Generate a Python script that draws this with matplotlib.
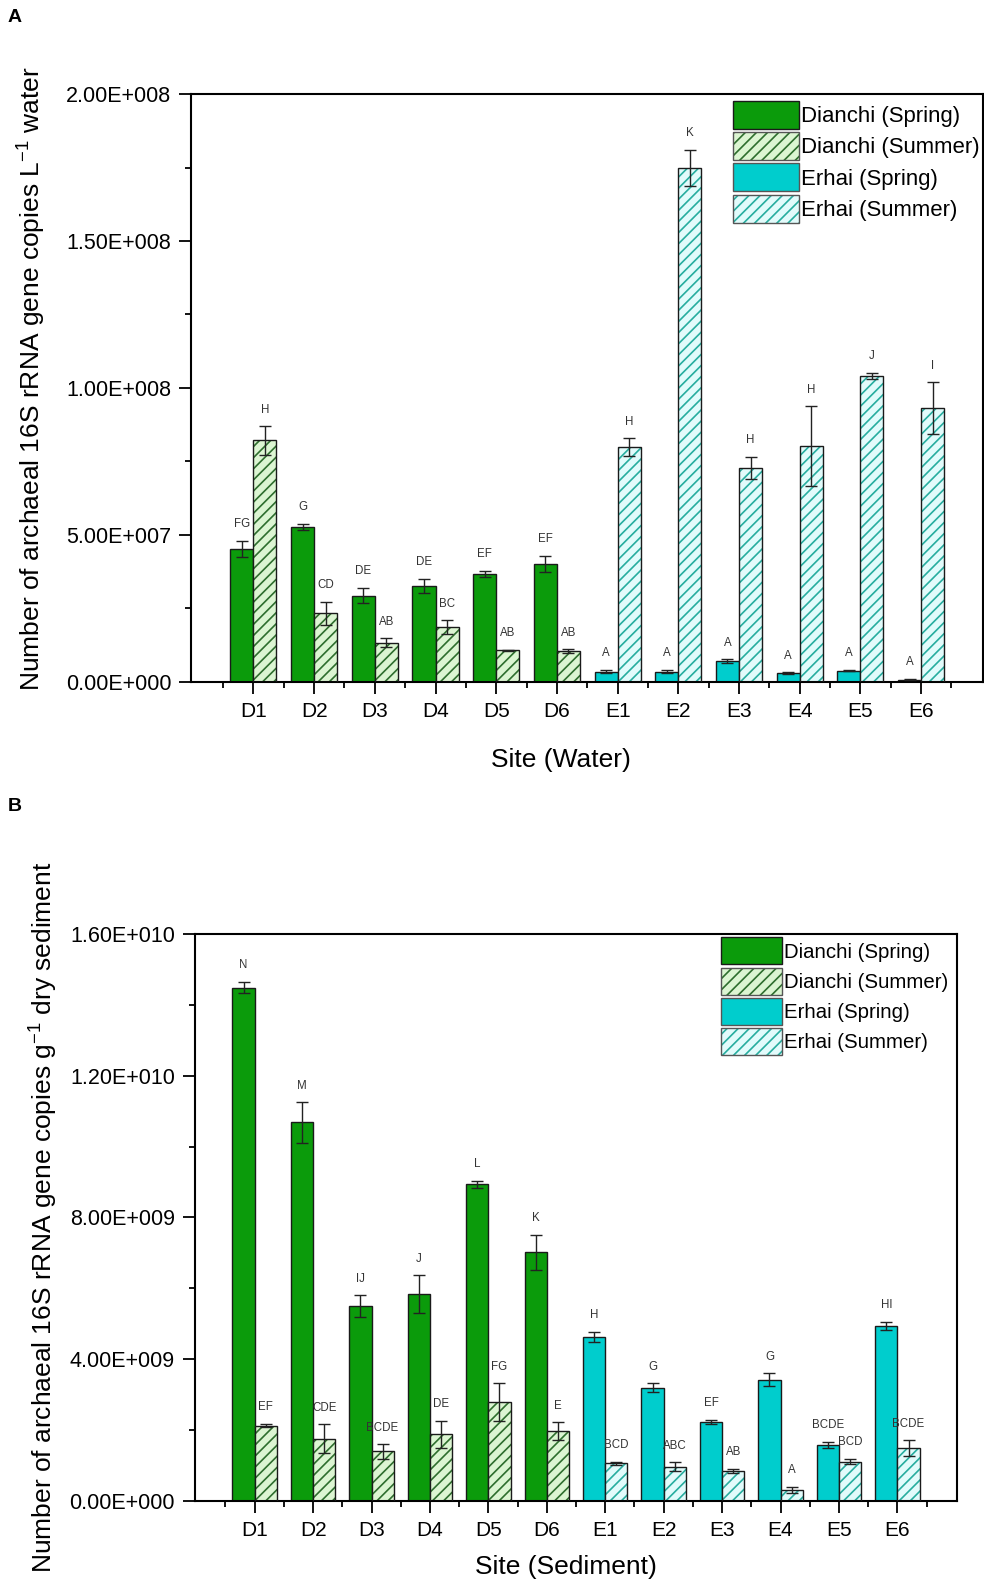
import matplotlib
matplotlib.use("Agg")
import matplotlib.pyplot as plt
from matplotlib.patches import Patch
from matplotlib.legend_handler import HandlerTuple
import numpy as np

plt.rcParams['font.family'] = ['Liberation Sans', 'DejaVu Sans']
plt.rcParams['mathtext.fontset'] = 'custom'
plt.rcParams['mathtext.rm'] = 'Liberation Sans'
plt.rcParams['mathtext.it'] = 'Liberation Sans:italic'
plt.rcParams['hatch.linewidth'] = 1.2

# ---------------- data ----------------
sites = ['D1', 'D2', 'D3', 'D4', 'D5', 'D6', 'E1', 'E2', 'E3', 'E4', 'E5', 'E6']

# Panel A (water)
water_spring = [4.51e7, 5.26e7, 2.92e7, 3.26e7, 3.67e7, 4.01e7,
                3.4e6, 3.4e6, 7.0e6, 2.8e6, 3.75e6, 7.0e5]
water_spring_err = [2.7e6, 1.0e6, 2.6e6, 2.3e6, 1.1e6, 2.7e6,
                    5e5, 5e5, 6e5, 3e5, 3e5, 2e5]
water_summer = [8.21e7, 2.32e7, 1.33e7, 1.86e7, 1.06e7, 1.03e7,
                7.98e7, 1.748e8, 7.28e7, 8.01e7, 1.041e8, 9.31e7]
water_summer_err = [4.8e6, 3.9e6, 1.4e6, 2.3e6, 3e5, 7e5,
                    3.0e6, 6.2e6, 3.7e6, 1.36e7, 1.1e6, 8.8e6]
water_spring_letters = ['FG', 'G', 'DE', 'DE', 'EF', 'EF', 'A', 'A', 'A', 'A', 'A', 'A']
water_summer_letters = ['H', 'CD', 'AB', 'BC', 'AB', 'AB', 'H', 'K', 'H', 'H', 'J', 'I']
water_yticks = [0, 5e7, 1e8, 1.5e8, 2e8]
water_yticklabels = ['0.00E+000', '5.00E+007', '1.00E+008', '1.50E+008', '2.00E+008']

# Panel B (sediment)
sed_spring = [1.449e10, 1.068e10, 5.49e9, 5.83e9, 8.93e9, 7.01e9,
              4.62e9, 3.19e9, 2.22e9, 3.42e9, 1.57e9, 4.94e9]
sed_spring_err = [1.6e8, 5.7e8, 3.1e8, 5.3e8, 1.0e8, 5.0e8,
                  1.5e8, 1.27e8, 5.6e7, 1.8e8, 8.5e7, 1.08e8]
sed_summer = [2.115e9, 1.748e9, 1.39e9, 1.87e9, 2.78e9, 1.965e9,
              1.053e9, 9.6e8, 8.4e8, 3.1e8, 1.1e9, 1.48e9]
sed_summer_err = [4.7e7, 4.1e8, 2.0e8, 3.9e8, 5.3e8, 2.5e8,
                  3.8e7, 1.2e8, 6e7, 8e7, 7.5e7, 2.26e8]
sed_spring_letters = ['N', 'M', 'IJ', 'J', 'L', 'K', 'H', 'G', 'EF', 'G', 'BCDE', 'HI']
sed_summer_letters = ['EF', 'CDE', 'BCDE', 'DE', 'FG', 'E', 'BCD', 'ABC', 'AB', 'A', 'BCD', 'BCDE']
sed_yticks = [0, 4e9, 8e9, 1.2e10, 1.6e10]
sed_yticklabels = ['0.00E+000', '4.00E+009', '8.00E+009', '1.20E+010', '1.60E+010']

legend_labels = ['Dianchi (Spring)', 'Dianchi (Summer)', 'Erhai (Spring)', 'Erhai (Summer)']

# ---------------- style ----------------
GREEN = '#0b9b0b'
CYAN = '#00cdcd'
GREEN_LIGHT = '#dcf5d2'
GREEN_HATCH = '#2e6e2e'
CYAN_LIGHT = '#e2fbfb'
CYAN_HATCH = '#27ad9f'
EDGE = '#1a1a1a'
W = 0.38

fig = plt.figure(figsize=(9.84, 15.81), dpi=100)
axA = fig.add_axes([0.1946, 0.5689, 0.999 - 0.1946, 0.9405 - 0.5689])
axB = fig.add_axes([0.1982, 0.0508, 0.9726 - 0.1982, 0.4092 - 0.0508])


def draw(ax, spring, spring_err, summer, summer_err, sl, ml, yticks, yticklabels,
         ylabel, xlabel, ylabel_xy, xlabel_xy, letter_fs, leg_fs, leg_anchor, leg_hh, leg_ls):
    x = np.arange(len(sites))
    n_d = sum(1 for s in sites if s.startswith('D'))
    solid_cols = [GREEN if i < n_d else CYAN for i in range(len(sites))]
    light_cols = [GREEN_LIGHT if i < n_d else CYAN_LIGHT for i in range(len(sites))]
    hatch_cols = [GREEN_HATCH if i < n_d else CYAN_HATCH for i in range(len(sites))]

    ax.bar(x - W / 2, spring, W, color=solid_cols, edgecolor=EDGE, linewidth=1.0, zorder=2)
    ax.bar(x + W / 2, summer, W, color=light_cols, edgecolor=hatch_cols, hatch='///',
           linewidth=0, zorder=2)
    ax.bar(x + W / 2, summer, W, fill=False, edgecolor=EDGE, linewidth=1.0, zorder=3)

    ax.errorbar(x - W / 2, spring, yerr=spring_err, fmt='none', ecolor='#222222',
                elinewidth=1.0, capsize=4.5, capthick=1.0, zorder=4)
    ax.errorbar(x + W / 2, summer, yerr=summer_err, fmt='none', ecolor='#222222',
                elinewidth=1.0, capsize=4.5, capthick=1.0, zorder=4)

    for i in range(len(sites)):
        ax.annotate(sl[i], (x[i] - W / 2, spring[i] + spring_err[i]), xytext=(0, 12),
                    textcoords='offset points', ha='center', va='center',
                    fontsize=letter_fs, color='#333333')
        ax.annotate(ml[i], (x[i] + W / 2, summer[i] + summer_err[i]), xytext=(0, 12),
                    textcoords='offset points', ha='center', va='center',
                    fontsize=letter_fs, color='#333333')

    ax.set_xlim(-1.02, 12.02)
    ax.set_ylim(yticks[0], yticks[-1])
    ax.set_xticks(x)
    ax.set_xticklabels(sites, fontsize=15)
    ax.set_xticks(np.arange(-0.5, len(sites), 1.0), minor=True)
    ax.set_yticks(yticks)
    ax.set_yticklabels(yticklabels, fontsize=15.5)
    ax.set_yticks([(yticks[i] + yticks[i + 1]) / 2 for i in range(len(yticks) - 1)], minor=True)
    ax.tick_params(axis='both', which='major', direction='out', length=8.5, width=1.3, pad=6)
    ax.tick_params(axis='both', which='minor', direction='out', length=4, width=1.3)
    for sp in ax.spines.values():
        sp.set_linewidth(1.5)
    ax.set_ylabel(ylabel, fontsize=19)
    ax.set_xlabel(xlabel, fontsize=19)
    ax.yaxis.set_label_coords(*ylabel_xy)
    ax.xaxis.set_label_coords(*xlabel_xy)

    handles = [
        Patch(facecolor=GREEN, edgecolor=EDGE, linewidth=1.0),
        (Patch(facecolor=GREEN_LIGHT, edgecolor=GREEN_HATCH, hatch='///', linewidth=0),
         Patch(fill=False, edgecolor='#555555', linewidth=1.0)),
        Patch(facecolor=CYAN, edgecolor='#555555', linewidth=1.0),
        (Patch(facecolor=CYAN_LIGHT, edgecolor=CYAN_HATCH, hatch='///', linewidth=0),
         Patch(fill=False, edgecolor='#555555', linewidth=1.0)),
    ]
    ax.legend(handles, legend_labels, loc='upper left', bbox_to_anchor=leg_anchor,
              frameon=False, fontsize=leg_fs, handlelength=3.0, handleheight=leg_hh,
              labelspacing=leg_ls, handletextpad=0.1, borderpad=0, borderaxespad=0,
              handler_map={tuple: HandlerTuple(ndivide=1)})


draw(axA, water_spring, water_spring_err, water_summer, water_summer_err,
     water_spring_letters, water_summer_letters, water_yticks, water_yticklabels,
     'Number of archaeal 16S rRNA gene copies L$^{-1}$ water', 'Site (Water)',
     (-0.1813, 0.515), (0.467, -0.113), 8.3, 15.9, (0.684, 0.989), 1.58, 0.15)

draw(axB, sed_spring, sed_spring_err, sed_summer, sed_summer_err,
     sed_spring_letters, sed_summer_letters, sed_yticks, sed_yticklabels,
     'Number of archaeal 16S rRNA gene copies g$^{-1}$ dry sediment', 'Site (Sediment)',
     (-0.1771, 0.5), (0.487, -0.096), 8.3, 14.7, (0.690, 0.994), 1.66, 0.15)

fig.text(0.008, 1 - 18 / 1581, 'A', fontsize=14, fontweight='bold', va='center', ha='left')
fig.text(0.008, 1 - 807 / 1581, 'B', fontsize=14, fontweight='bold', va='center', ha='left')

fig.savefig('out.png', dpi=100)
